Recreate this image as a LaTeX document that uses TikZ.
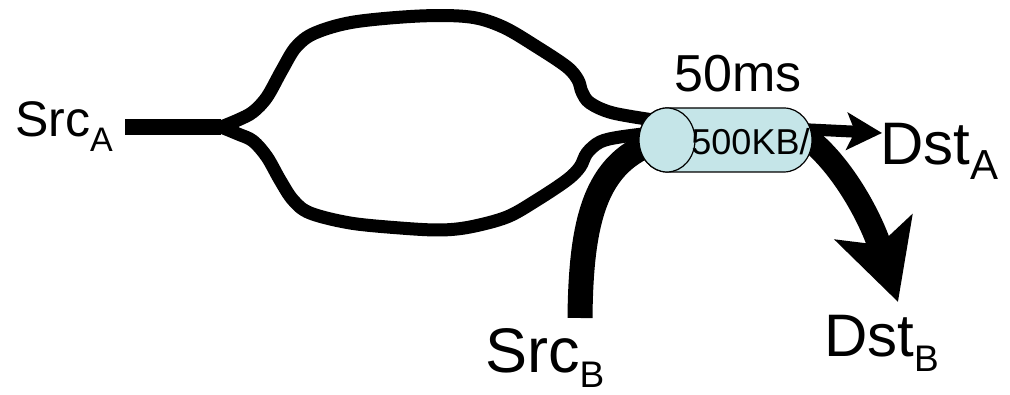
\documentclass[tikz,border=0pt]{standalone}
\usepackage{fontspec}
\setmainfont{Liberation Sans}
\usetikzlibrary{arrows.meta,backgrounds}
\definecolor{pipefill}{RGB}{197,229,232}
\newcommand{\hostlbl}[4]{\fontsize{#3}{#3}\selectfont #1\raisebox{-15pt}{\fontsize{#4}{#4}\selectfont #2}}
\tikzset{
  lbl/.style={inner sep=0pt, anchor=base west},
  trunk/.style={line width=16pt},
  branch/.style={line width=13pt},
  pipeline/.style={draw=black, line width=1.2pt, fill=pipefill},
}
\begin{document}
\begin{tikzpicture}[x=1pt,y=1pt]
	\useasboundingbox (0,0) rectangle (1010,395);
	% the bottleneck link
	\coordinate (pipe) at (725.5,255);
	\path [pipeline] (667,223) -- (784,223) arc[start angle=-90, end angle=90, x radius=28, y radius=32] -- (667,287) arc[start angle=90, end angle=270, x radius=28, y radius=32] -- cycle;
	\path [pipeline] (667,255) ellipse [x radius=28, y radius=32];
	\node[inner sep=0pt, anchor=base, font=\fontsize{36}{36}\selectfont] (rate) at (750.5,240) {500KB/};
	\node[inner sep=0pt, anchor=base, font=\fontsize{52}{52}\selectfont] (delay) at (738,303) {50ms};
	% hosts
	\node[lbl] (srcA) at (15,258) {\hostlbl{Src}{A}{50}{34}};
	\node[lbl] (srcB) at (485,22) {\hostlbl{Src}{B}{63}{37}};
	\node[lbl] (dstA) at (880,230) {\hostlbl{Dst}{A}{60}{42}};
	\node[lbl] (dstB) at (824,38) {\hostlbl{Dst}{B}{60}{37}};
	\coordinate (tailA) at (125,268);
	\coordinate (split) at (221,268);
	\coordinate (tailB) at (580,77);
	\begin{scope}[on background layer]
		\draw [trunk] (tailA) -- (split);
		\draw [branch] plot[smooth, tension=0.55] coordinates {(split) (238,275) (253,283) (267,298) (282,325) (296,348) (315,362) (354,373) (420,379) (470,378) (503,368) (537,348) (567,328) (578,315) (582,303) (590,292) (613,282) (660,274)};
		\draw [branch] plot[smooth, tension=0.55] coordinates {(split) (238,261) (253,254) (267,238) (280,215) (293,195) (310,182) (350,172) (400,167) (440,165) (470,168) (507,178) (537,195) (567,215) (580,228) (587,242) (600,253) (620,258) (660,263)};
		\draw [line width=25pt] (tailB) .. controls (581,180) and (597,238) .. (665,256);
		\draw [line width=12pt, -{Stealth[length=35pt, width=37pt, inset=8pt]}] (800,266) -- (882,262);
		\draw [line width=24pt, -{Stealth[length=78pt, width=80pt, inset=18pt]}] (800,262) .. controls (835,240) and (868,185) .. (898,93);
	\end{scope}
\end{tikzpicture}
\end{document}
